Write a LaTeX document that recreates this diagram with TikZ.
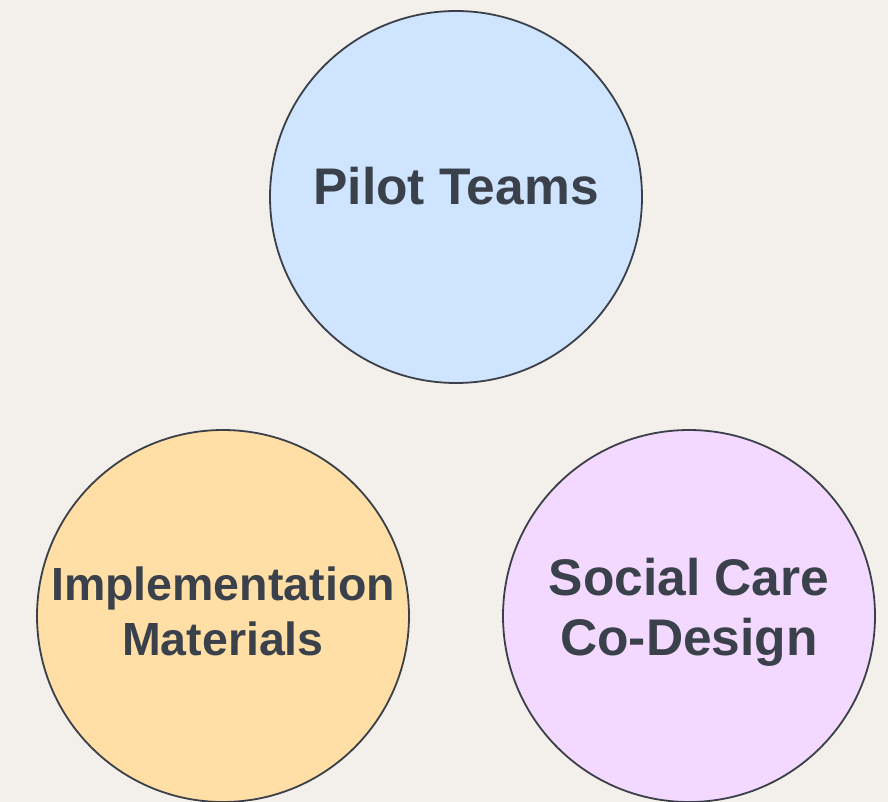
\documentclass[tikz,border=0pt]{standalone}
\usepackage{fontspec}
\setmainfont{Liberation Sans}
\usetikzlibrary{positioning}
\definecolor{paper}{HTML}{F3F0EB}
\definecolor{edge}{HTML}{3B4048}
\definecolor{ink}{HTML}{3A414A}
\definecolor{pilotblue}{HTML}{CFE4FF}
\definecolor{implorange}{HTML}{FFDFA6}
\definecolor{carepurple}{HTML}{F3D9FF}
\tikzset{
bubble/.style={shape=circle, minimum size=372pt, inner sep=0, draw=edge, line width=1.8pt}, caption/.style={font=\bfseries\fontsize{51.5}{60}\selectfont, text=ink, align=center, inner sep=0}, smallcaption/.style={caption, font=\bfseries\fontsize{46.5}{55}\selectfont}}

\begin{document}
\begin{tikzpicture}[x=1pt, y=-1pt]
\fill [paper] (0,0) rectangle (888,802);
\useasboundingbox (0,0) rectangle (888,802);
\foreach \bname/\bx/\by/\bcol in {pilot/456/197/pilotblue, impl/223/616/implorange, care/689/616/carepurple}{
      \node [bubble, fill=\bcol] at (\bx, \by) (\bname) {};
}
\node [caption, anchor=base] at (456, 205) (pilot-text) {Pilot Teams};
\node [smallcaption, anchor=base] at (223, 655) (impl-text) {Implementation\\Materials};
\node [caption, anchor=base] at (689, 655) (care-text) {Social Care\\Co-Design};
\end{tikzpicture}
\end{document}
